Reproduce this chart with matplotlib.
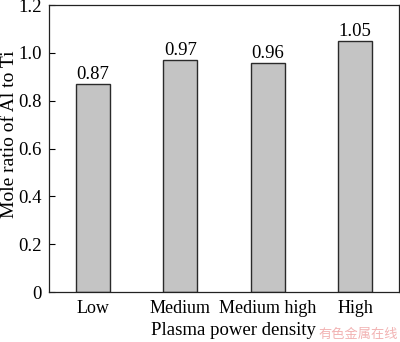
import matplotlib as mpl
mpl.use('Agg')
import matplotlib.pyplot as plt
import numpy as np

# data
levels = ['Low', 'Medium', 'Medium high', 'High']
al_ti_ratio = [0.87, 0.97, 0.96, 1.05]
value_labels = ['0.87', '0.97', '0.96', '1.05']
y_ticks = [0, 0.2, 0.4, 0.6, 0.8, 1.0, 1.2]
y_ticklabels = ['0', '0.2', '0.4', '0.6', '0.8', '1.0', '1.2']

plt.rcParams['font.family'] = ['Liberation Serif', 'DejaVu Serif']
plt.rcParams['font.size'] = 13

fig = plt.figure(figsize=(4.0, 3.42), dpi=100)
ax = fig.add_axes([0.1225, 0.146, 0.875, 0.839])

x = np.arange(len(levels))
bars = ax.bar(x, al_ti_ratio, width=0.39, color='#c4c4c4',
              edgecolor='#2a2a2a', linewidth=1.0)
for b, lab in zip(bars, value_labels):
  ax.text(b.get_x() + b.get_width() / 2, b.get_height() + 0.004, lab,
          ha='center', va='bottom', fontsize=13.5)

ax.set_xlim(-0.5, len(levels) - 0.5)
ax.set_ylim(0, 1.2)
ax.set_xticks(x)
ax.set_xticklabels(levels)
ax.set_yticks(y_ticks)
ax.set_yticklabels(y_ticklabels, fontsize=13.5)
ax.tick_params(axis='y', direction='in', length=4, width=0.8, pad=5)
ax.tick_params(axis='x', length=0, pad=6)
for s in ax.spines.values():
  s.set_linewidth(0.9)
  s.set_color('#222222')

ax.set_xlabel('Plasma power density', fontsize=13.5, va='top')
ax.xaxis.set_label_coords(0.526, -0.104)
ax.set_ylabel('Mole ratio of Al to Ti', fontsize=14, va='center')
ax.yaxis.set_label_coords(-0.112, 0.55)

# watermark in the corner
fig.text(0.995, 0.003, '有色金属在线', ha='right', va='bottom', fontsize=9.5,
         color='#f2b3b3', family=['Noto Sans CJK SC', 'DejaVu Sans'])

fig.savefig('out.png', dpi=100)
